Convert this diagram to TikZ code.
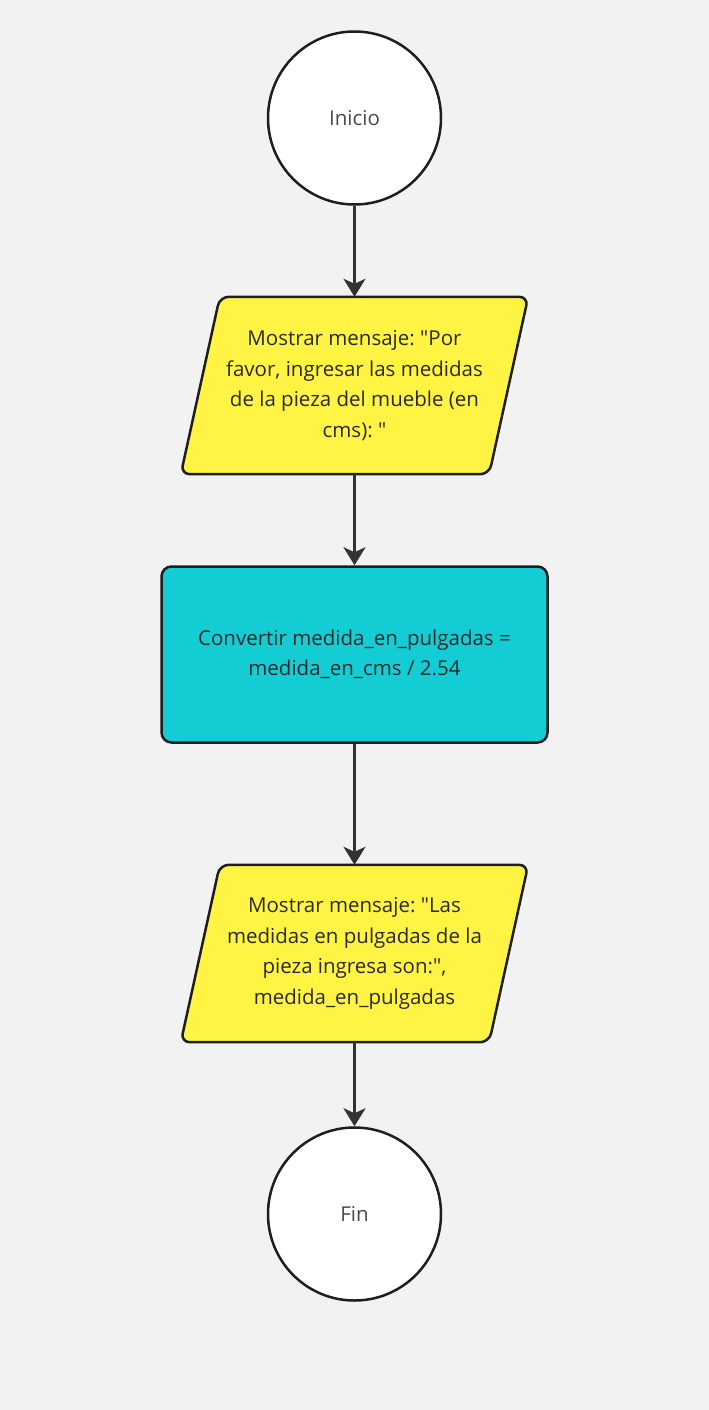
\documentclass[tikz,border=0pt]{standalone}
\usepackage{fontspec}
\setmainfont{Open Sans}[Ligatures=TeXOff]
\usetikzlibrary{arrows.meta,calc}
\definecolor{bg}{HTML}{F2F2F2}
\definecolor{ioyel}{HTML}{FFF443}
\definecolor{proccyan}{HTML}{14CDD4}
\definecolor{edge}{HTML}{1E1E1E}
\definecolor{arrowc}{HTML}{333333}
\definecolor{txt}{HTML}{2A2A2A}
\tikzset{
  circnode/.style={circle, draw=edge, fill=white, line width=2.5pt, minimum size=173pt, inner sep=0pt, text=txt!85!white, font=\fontsize{20.5}{30}\selectfont},
  iotext/.style={minimum width=347pt, minimum height=177pt, inner sep=0pt, align=center, text=txt, font=\fontsize{20.5}{30.5}\selectfont\frenchspacing},
  iobox/.style={draw=edge, fill=ioyel, line width=2.5pt, rounded corners=9pt},
  procnode/.style={rectangle, draw=edge, fill=proccyan, line width=2.5pt, rounded corners=10pt, minimum width=386pt, minimum height=176pt, inner sep=0pt, align=center, text=txt, font=\fontsize{20.5}{30.5}\selectfont\frenchspacing},
  flow/.style={draw=arrowc, line width=2.8pt, -{Stealth[length=18pt,width=22pt,inset=5pt]}}
}
\begin{document}
\begin{tikzpicture}[x=1pt,y=-1pt]
\fill[bg] (0,0) rectangle (709,1410);
\useasboundingbox (0,0) rectangle (709,1410);
% start
\node[circnode] (start) at (354.5,118) {Inicio};
% input parallelogram
\node[iotext] (in) at (354.5,385.5) {};
\draw[iobox] ([xshift=39pt]in.north west) -- (in.north east) -- ([xshift=-39pt]in.south east) -- (in.south west) -- cycle;
\node[iotext] at (in.center) {Mostrar mensaje: "Por\\favor, ingresar las medidas\\de la pieza del mueble (en\\cms): "};
% process
\node[procnode] (proc) at (354.5,654.5) {Convertir medida\_en\_pulgadas =\\medida\_en\_cms / 2.54};
% output parallelogram
\node[iotext] (out) at (354.5,953.5) {};
\draw[iobox] ([xshift=39pt]out.north west) -- (out.north east) -- ([xshift=-39pt]out.south east) -- (out.south west) -- cycle;
\node[iotext] at (out.center) {Mostrar mensaje: "Las\\medidas en pulgadas de la\\pieza ingresa son:",\\medida\_en\_pulgadas};
% end
\node[circnode] (fin) at (354.5,1214) {Fin};
% connectors
\draw[flow] (start.south) -- (in.north);
\draw[flow] (in.south) -- (proc.north);
\draw[flow] (proc.south) -- (out.north);
\draw[flow] (out.south) -- (fin.north);
\end{tikzpicture}
\end{document}
